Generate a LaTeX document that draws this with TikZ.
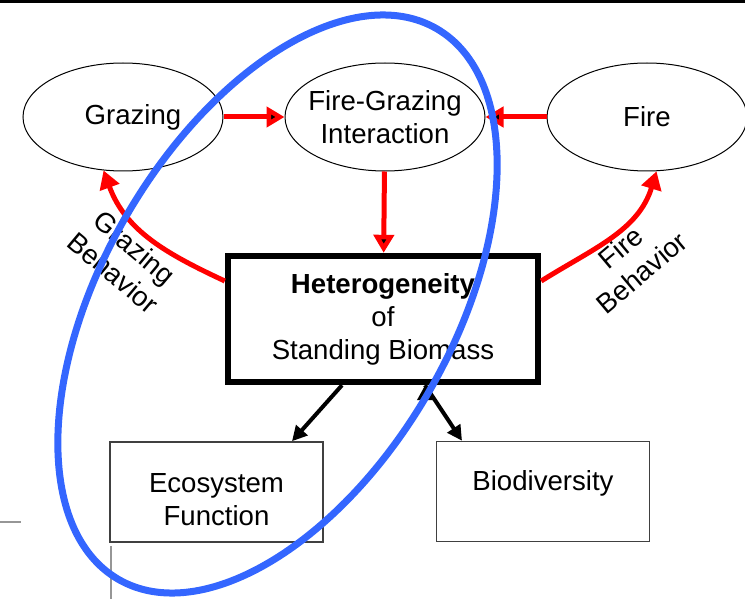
\documentclass[tikz,border=0pt]{standalone}
\usepackage{fontspec}
\setmainfont{Liberation Sans}
\usetikzlibrary{shapes.geometric}
\usetikzlibrary{positioning}
\usetikzlibrary{arrows.meta}

\begin{document}
\begin{tikzpicture}[x=0.5pt,y=0.5pt,node distance=131pt,
	font=\fontsize{13.8pt}{16.5pt}\selectfont,
	main node/.style={ellipse,draw,line width=0.5pt,minimum width=100pt,
		minimum height=54pt,inner xsep=-4pt,inner ysep=0pt,align=center},
	box node/.style={rectangle,draw=darkgray,line width=0.75pt,
		minimum width=106.5pt,minimum height=50pt,align=center},
	big node/.style={rectangle,draw,line width=3.2pt,minimum width=155pt,
		minimum height=63pt,align=center},
	red arrow/.style={-{Triangle[length=9pt,width=10pt]},draw=arrowred,line width=2.5pt},
	black arrow/.style={-{Triangle[length=7.5pt,width=7.5pt]},draw=black,line width=2pt},
	ring/.style={draw=ringblue,line width=3.5pt}]
	
	\definecolor{arrowred}{RGB}{255,0,0}
	\definecolor{ringblue}{RGB}{52,102,255}
	\definecolor{edgegray}{RGB}{150,150,150}
	
	\useasboundingbox (0,0) rectangle (745,-599);
	\fill (0,0) rectangle (745,-3);
	\draw[edgegray,line width=0.6pt] (0,-522) -- (21,-522);
	\draw[edgegray,line width=0.6pt] (111,-546) -- (111,-599);
	
	\node[main node] (graze) at (123,-117) {\hspace{10pt}Grazing};
	\node[main node] (fgi) [right of=graze] {Fire-Grazing\\Interaction};
	\node[main node] (fire) [right of=fgi] {Fire};
	\node[big node] (het) at (383,-319) {\textbf{Heterogeneity}\\of\\Standing Biomass};
	\node[box node,text height=34pt] (eco) at (216.5,-492) {Ecosystem\\Function};
	\node[box node,text depth=11.4pt] (bio) at (543,-491.5) {Biodiversity};
	
	\node[rotate=-40,align=center] (grazelbl) at (124,-260) {Grazing\\Behavior};
	\node[rotate=40,align=center] (firelbl) at (631,-260) {Fire\\Behavior};
	
	\path[red arrow]
	(graze) edge (fgi)
	(fire) edge (fgi)
	(fgi) edge (het);
	\draw[red arrow] ([yshift=19pt]het.west) to[out=155,in=-70] (graze.250);
	\draw[red arrow] ([yshift=19pt]het.east) to[out=32,in=-107] (fire.280);
	
	\path[black arrow]
	([xshift=-20.5pt]het.south) edge ([xshift=37.75pt]eco.north)
	([xshift=21pt]het.south) edge ([xshift=-40.5pt]bio.north);
	
	% highlight round the middle column
	\coordinate (ringc) at (277.5,-304);
	\draw[ring,rotate around={60:(ringc)}] (ringc) ellipse [x radius=159pt,y radius=87.5pt];
\end{tikzpicture}
\end{document}
